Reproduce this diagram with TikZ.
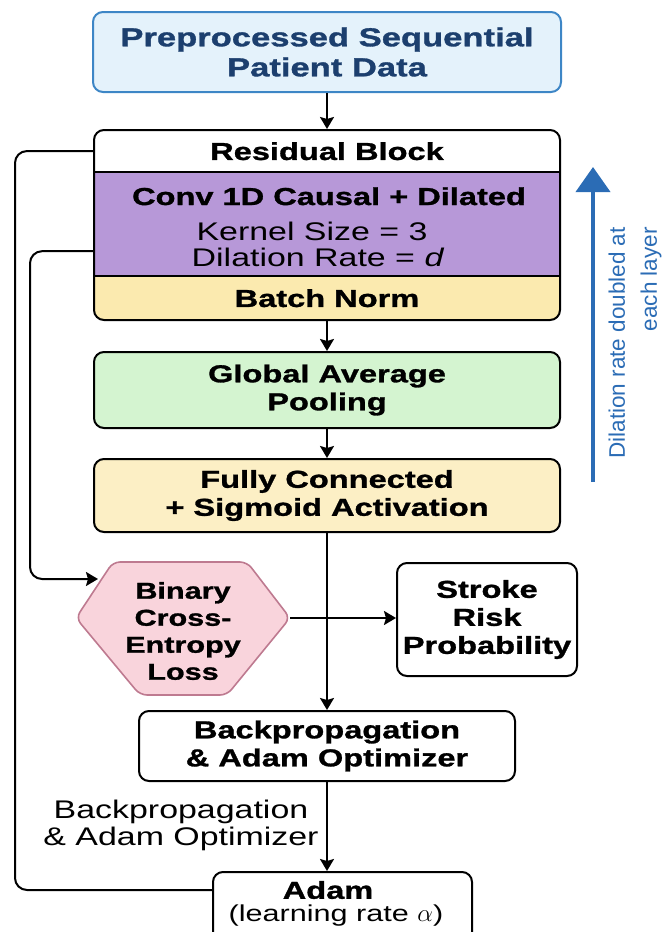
\documentclass[tikz,border=0pt]{standalone}
\usepackage{fontspec}
\setmainfont{Liberation Sans}[FakeStretch=1.33, BoldFeatures={FakeBold=1.2}]
\newfontfamily\sidefont{Liberation Sans}
\usetikzlibrary{arrows.meta}

\definecolor{preFill}{HTML}{E4F2FB}
\definecolor{preDraw}{HTML}{3D86C6}
\definecolor{preText}{HTML}{1C3F6E}
\definecolor{convFill}{HTML}{B798D8}
\definecolor{bnFill}{HTML}{FBEAAF}
\definecolor{gapFill}{HTML}{D4F4D0}
\definecolor{fcFill}{HTML}{FCEFC5}
\definecolor{lossFill}{HTML}{F9D4DC}
\definecolor{lossDraw}{HTML}{BE7A90}
\definecolor{sideBlue}{HTML}{2B6CB5}

\begin{document}
\begin{tikzpicture}[x=1pt,y=-1pt,
  box/.style={draw=black, line width=2pt, rounded corners=10pt, align=center, inner sep=0pt},
  bt/.style={font=\fontsize{24.5}{28}\selectfont\bfseries},
  rt/.style={font=\fontsize{25.5}{27}\selectfont},
  sect/.style={inner sep=0pt, minimum width=466pt, anchor=north},
  txt/.style={inner sep=0pt, align=center},
  arr/.style={line width=2pt, -{Stealth[length=12pt,width=14pt,inset=2pt]}},
  link/.style={line width=2pt, rounded corners=12pt}]

\useasboundingbox (0,0) rectangle (667,932);
\clip (0,0) rectangle (667,932);

% input data
\node[box, fill=preFill, draw=preDraw, minimum width=468pt, minimum height=80pt,
      text=preText, font=\fontsize{26}{30}\selectfont\bfseries] (pre) at (327,52)
      {Preprocessed Sequential\\Patient Data};

% residual block: three stacked sections inside one rounded frame
\begin{scope}
  \clip[rounded corners=10pt] (94,130) rectangle (560,320);
  \node[sect, fill=white, minimum height=42pt] (restop) at (327,130) {};
  \node[sect, fill=convFill, minimum height=104pt] (conv) at (327,172) {};
  \node[sect, fill=bnFill, minimum height=44pt] (bn) at (327,276) {};
\end{scope}
\draw[line width=2pt] (restop.south west) -- (restop.south east);
\draw[line width=2pt] (bn.north west) -- (bn.north east);
\node[box, minimum width=466pt, minimum height=190pt] (res) at (327,225) {};

\node[txt, bt] (resT) at (restop.center) {Residual Block};
\node[txt, bt, anchor=base] (convT) at (329,205) {Conv 1D Causal + Dilated};
\node[txt, rt, anchor=base] (convK) at (312,240) {Kernel Size = 3};
\node[txt, rt, anchor=base] (convD) at (318,266) {Dilation Rate = \textit{d}};
\node[txt, bt] (bnT) at (bn.center) {Batch Norm};

% pooling and classifier head
\node[box, fill=gapFill, minimum width=466pt, minimum height=76pt, bt] (gap) at (327,390)
      {Global Average\\Pooling};
\node[box, fill=fcFill, minimum width=466pt, minimum height=73pt, bt] (fc) at (327,495.5)
      {Fully Connected\\+ Sigmoid Activation};

% loss hexagon
\draw[line width=1.6pt, draw=lossDraw, fill=lossFill, rounded corners=7pt]
  (76,618) -- (113,562) -- (247,562) -- (290,618) -- (227,695) -- (140,695) -- cycle;
\coordinate (lossE) at (290,618);
\coordinate (lossIn) at (98,579);
\node[txt, bt, font=\fontsize{23}{27}\selectfont\bfseries] (loss) at (183,631)
      {Binary\\Cross-\\Entropy\\Loss};

\node[box, fill=white, minimum width=180pt, minimum height=113pt, bt] (stroke) at (487,619.5)
      {Stroke\\Risk\\Probability};

\node[box, fill=white, minimum width=376pt, minimum height=70pt, bt] (bp) at (327,746)
      {Backpropagation\\\& Adam Optimizer};

\node[box, fill=white, minimum width=259pt, minimum height=90pt, anchor=north] (adam) at (342.5,871) {};
\node[txt, bt] (adamT) at (328,890) {Adam};
\node[txt, font=\fontsize{23}{27}\selectfont] (adamL) at (336,916) {(learning rate $\alpha$)};

\node[txt, rt] (bpL) at (181,825) {Backpropagation\\\& Adam Optimizer};

% main flow
\draw[arr] (pre.south) -- (res.north);
\draw[arr] (res.south) -- (gap.north);
\draw[arr] (gap.south) -- (fc.north);
\draw[arr] (fc.south) -- (bp.north);
\draw[arr] (lossE) -- (stroke.west |- lossE);
\draw[arr] (bp.south) -- (bp.south |- adam.north);

% feedback paths
\draw[link] ([yshift=-19pt]adam.north west) -| (15,151) -- (restop.west);
\draw[link, arr] ([yshift=-27pt]conv.west) -| (30,579) -- (lossIn);

% dilation annotation
\coordinate (dilBot) at (593,482);
\coordinate (dilTop) at (593,167);
\draw[line width=4pt, sideBlue, -{Triangle[length=25pt,width=34pt]}] (dilBot) -- (dilTop);
\node[txt, rotate=90, align=right, text=sideBlue, font=\sidefont\fontsize{22.5}{32}\selectfont]
  (dilT) at (635,343) {Dilation rate doubled at\\each layer};

\end{tikzpicture}
\end{document}
